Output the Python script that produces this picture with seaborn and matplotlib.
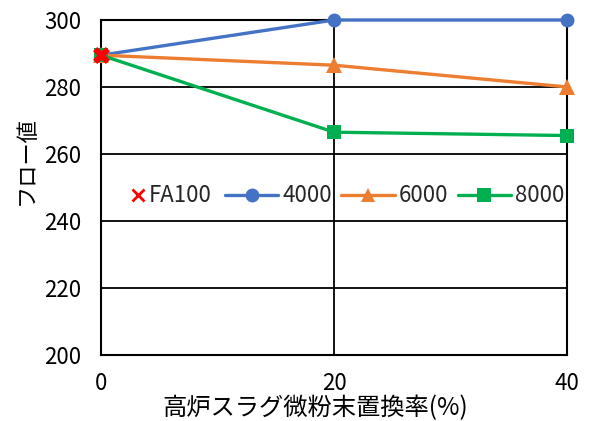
import matplotlib
matplotlib.use("Agg")
import matplotlib.pyplot as plt
from matplotlib.lines import Line2D
import seaborn as sns
import pandas as pd

# Slag replacement ratio (%) and flow values per fineness grade
replacement = [0, 20, 40]
flow_4000 = [289.5, 300.0, 300.0]
flow_6000 = [289.5, 286.5, 280.0]
flow_8000 = [289.5, 266.5, 265.5]
fa100_x = [0]
fa100_y = [289.5]
series_names = ["4000", "6000", "8000"]
y_ticks = [200, 220, 240, 260, 280, 300]
x_ticks = [0, 20, 40]

sns.set_theme(style="white")
plt.rcParams["font.family"] = ["Noto Sans CJK JP", "DejaVu Sans"]

colors = {"4000": "#4472C4", "6000": "#ED7D31", "8000": "#00B050"}
markers = {"4000": "o", "6000": "^", "8000": "s"}

df = pd.DataFrame({
    "rate": replacement * 3,
    "flow": flow_4000 + flow_6000 + flow_8000,
    "grade": [n for n in series_names for _ in replacement],
})

fig = plt.figure(figsize=(5.89, 4.21), dpi=100)
ax = fig.add_axes([0.1715, 0.157, 0.7915, 0.7955])

for g in series_names:
    sub = df[df["grade"] == g]
    sns.lineplot(data=sub, x="rate", y="flow", ax=ax, color=colors[g],
                 marker=markers[g], markersize=10 if g != "6000" else 11,
                 markeredgewidth=0, linewidth=2.4, clip_on=False,
                 legend=False, zorder=3)

sns.scatterplot(x=fa100_x, y=fa100_y, ax=ax, marker="X", color="#FF0000",
                s=150, linewidth=0, clip_on=False, zorder=5, legend=False)

ax.set_xlim(0, 40)
ax.set_ylim(200, 300)
ax.set_xticks(x_ticks)
ax.set_yticks(y_ticks)
ax.grid(True, color="black", linewidth=1.3)
ax.set_axisbelow(True)
for s in ax.spines.values():
    s.set_color("black")
    s.set_linewidth(1.5)
ax.tick_params(axis="both", length=0, labelsize=16, colors="black")
ax.tick_params(axis="x", pad=12)
ax.tick_params(axis="y", pad=14)

ax.set_xlabel("高炉スラグ微粉末置換率(%)", fontsize=17.5, color="black")
ax.set_ylabel("フロー値", fontsize=16, color="black")
ax.xaxis.set_label_coords(0.46, -0.12)
ax.yaxis.set_label_coords(-0.135, 0.58)

# Legend: FA100 marker-only entry, then the three grade lines
fa_handle = Line2D([], [], linestyle="none", marker="x", color="#FF0000",
                   markersize=8, markeredgewidth=2)
leg1 = ax.legend([fa_handle], ["FA100"], loc="center left",
                 bbox_to_anchor=(0.045, 0.475), frameon=False, fontsize=16,
                 handlelength=0.6, handletextpad=0.2, borderaxespad=0)
ax.add_artist(leg1)
line_handles = [Line2D([], [], color=colors[g], marker=markers[g],
                       markersize=10, markeredgewidth=0, linewidth=2.4)
                for g in series_names]
ax.legend(line_handles, series_names, loc="center left",
          bbox_to_anchor=(0.247, 0.475), ncol=3, frameon=False, fontsize=16,
          handlelength=2.4, handletextpad=0.2, columnspacing=0.4,
          borderaxespad=0)

fig.savefig("out.png", dpi=100)
